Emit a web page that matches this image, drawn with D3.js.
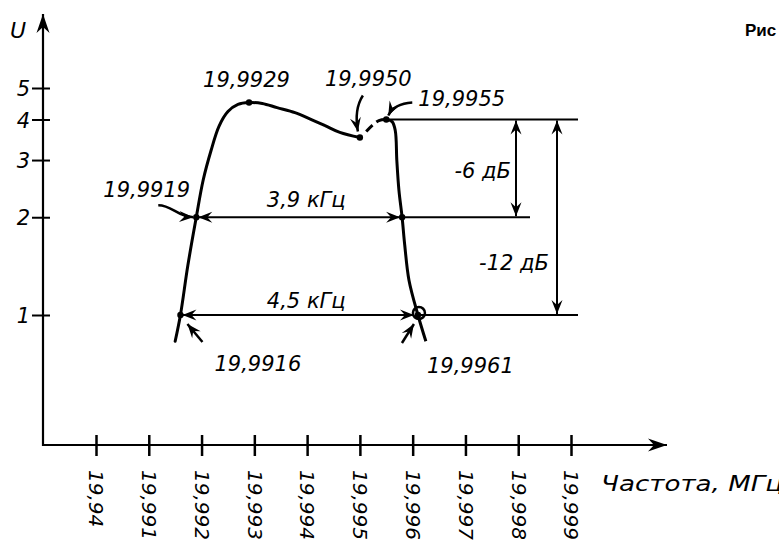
<!DOCTYPE html>
<html>
<head>
<meta charset="utf-8">
<script src="https://cdn.jsdelivr.net/npm/d3@7"></script>
<style>
  body { margin: 0; background: #fff; }
  svg { display: block; }
  text { font-family: "DejaVu Sans", sans-serif; font-style: italic; fill: #000; }
</style>
</head>
<body>
<div id="chart"></div>
<script>
// axis ticks
var xTickValues = [19.990, 19.991, 19.992, 19.993, 19.994, 19.995, 19.996, 19.997, 19.998, 19.999];
var xTickLabels = ["19,94", "19,991", "19,992", "19,993", "19,994", "19,995", "19,996", "19,997", "19,998", "19,999"];
var yTickValues = [1, 2, 3, 4, 5];

// response curve, part before the dip and part after it (MHz, U)
var leftFreq = [19.99150, 19.9916, 19.99174, 19.9919, 19.99203, 19.99218, 19.99233, 19.99250, 19.99269, 19.9929,
                19.99315, 19.99343, 19.99377, 19.99405, 19.99434, 19.99462, 19.9950];
var leftU = [0.83, 1.0, 1.42, 2.0, 2.6, 3.21, 3.81, 4.23, 4.45, 4.51,
             4.48, 4.35, 4.2, 4.02, 3.83, 3.65, 3.52];
var rightFreq = [19.99512, 19.99523, 19.99536, 19.9955, 19.99561, 19.99567, 19.99570, 19.99574, 19.9958,
                 19.99585, 19.99593, 19.9961, 19.99625];
var rightU = [3.67, 3.83, 3.97, 4.0, 3.94, 3.7, 2.99, 2.42, 2.0,
              1.64, 1.28, 1.0, 0.83];

// marked points
var markFreq = [19.9916, 19.9919, 19.9929, 19.9950, 19.9955, 19.9958, 19.9961];
var markU = [1, 2, 4.51, 3.52, 4, 2, 1];
var markLabels = ["19,9916", "19,9919", "19,9929", "19,9950", "19,9955", "", "19,9961"];

var refU = 4;          // reference level
var bandLabels = ["3,9 кГц", "4,5 кГц"];
var dbLabels = ["-6 дБ", "-12 дБ"];

var width = 779, height = 548;
var x0 = 43, y0 = 445;

var svg = d3.select("#chart").append("svg")
  .attr("width", width).attr("height", height);

var defs = svg.append("defs");
function marker(id, d) {
  defs.append("marker")
    .attr("id", id)
    .attr("viewBox", "-22 -10 24 20")
    .attr("refX", 0).attr("refY", 0)
    .attr("markerWidth", 24).attr("markerHeight", 20)
    .attr("markerUnits", "userSpaceOnUse")
    .attr("orient", "auto-start-reverse")
    .append("path").attr("d", d).attr("fill", "#000");
}
marker("axisArrow", "M0,0 L-19,-6.5 L-13,0 L-19,6.5 Z");
marker("arr", "M0,0 L-14,-5.5 L-9,0 L-14,5.5 Z");

var x = d3.scaleLinear().domain([19.990, 19.999]).range([96, 571]);
var y = d3.scaleLog().domain([1, 5]).range([315, 88]);

// x axis
svg.append("g")
  .attr("transform", "translate(0," + y0 + ")")
  .call(d3.axisBottom(x).tickValues(xTickValues)
    .tickFormat(function(d, i) { return xTickLabels[i]; })
    .tickSizeOuter(0))
  .call(function(g) { g.select(".domain").remove(); })
  .call(function(g) {
    g.selectAll(".tick line").attr("y1", -10).attr("y2", 11)
      .attr("stroke", "#000").attr("stroke-width", 2.5);
  })
  .call(function(g) {
    g.selectAll(".tick text")
      .attr("x", 0).attr("y", 0).attr("dy", "0.36em")
      .attr("transform", "translate(0,25) rotate(90)")
      .attr("text-anchor", "start")
      .style("font-size", "20px");
  });

// y axis
svg.append("g")
  .attr("transform", "translate(" + x0 + ",0)")
  .call(d3.axisLeft(y).tickValues(yTickValues).tickFormat(d3.format("d")).tickSizeOuter(0))
  .call(function(g) { g.select(".domain").remove(); })
  .call(function(g) {
    g.selectAll(".tick line").attr("x1", 7).attr("x2", -11)
      .attr("stroke", "#000").attr("stroke-width", 2);
  })
  .call(function(g) {
    g.selectAll(".tick text").attr("x", -13).attr("dy", "0.36em")
      .style("font-size", "21px");
  });

// axis lines with arrows
svg.append("line").attr("x1", x0).attr("y1", y0).attr("x2", 667).attr("y2", y0)
  .attr("stroke", "#000").attr("stroke-width", 2.2).attr("marker-end", "url(#axisArrow)");
svg.append("line").attr("x1", x0).attr("y1", y0 + 1).attr("x2", x0).attr("y2", 14)
  .attr("stroke", "#000").attr("stroke-width", 2.2).attr("marker-end", "url(#axisArrow)");

svg.append("text").attr("x", 10).attr("y", 38).style("font-size", "22px").text("U");
svg.append("text").attr("x", 601).attr("y", 491).style("font-size", "21px")
  .attr("textLength", 182).attr("lengthAdjust", "spacingAndGlyphs")
  .text("Частота, МГц");
svg.append("text").attr("x", 745).attr("y", 36)
  .style("font-family", "'Liberation Sans', Arial, sans-serif")
  .style("font-style", "normal").style("font-weight", "bold").style("font-size", "17px")
  .text("Рис");

// level lines
var xr = markFreq.map(x), yr = markU.map(function(u) { return y(u); });
var yRef = y(refU), y2 = y(2), y1 = y(1);
function hline(xa, xb, yy) {
  return svg.append("line").attr("x1", xa).attr("y1", yy).attr("x2", xb).attr("y2", yy)
    .attr("stroke", "#000").attr("stroke-width", 2);
}
hline(xr[4], 578, yRef);
hline(xr[5], 530, y2);
hline(xr[6], 578, y1);
// band arrows
hline(xr[1] + 2, xr[5] - 2, y2).attr("marker-start", "url(#arr)").attr("marker-end", "url(#arr)");
hline(xr[0] + 2, xr[6] - 4, y1).attr("marker-start", "url(#arr)").attr("marker-end", "url(#arr)");
// level arrows
function vline(xx, ya, yb) {
  return svg.append("line").attr("x1", xx).attr("y1", ya).attr("x2", xx).attr("y2", yb)
    .attr("stroke", "#000").attr("stroke-width", 2)
    .attr("marker-start", "url(#arr)").attr("marker-end", "url(#arr)");
}
vline(516, yRef + 1, y2 - 1);
vline(557, yRef + 1, y1 - 1);

// curve
var line = d3.line()
  .x(function(d) { return x(d[0]); })
  .y(function(d) { return y(d[1]); })
  .curve(d3.curveCatmullRom.alpha(0.5));
svg.append("path").datum(d3.zip(leftFreq, leftU))
  .attr("d", line).attr("fill", "none").attr("stroke", "#000")
  .attr("stroke-width", 3).attr("stroke-linecap", "round");
svg.append("path").datum(d3.zip(rightFreq, rightU))
  .attr("d", line).attr("fill", "none").attr("stroke", "#000")
  .attr("stroke-width", 3).attr("stroke-dasharray", "9 5 2000");

// points
svg.append("g").selectAll("circle").data(d3.range(markFreq.length)).enter()
  .append("circle")
  .attr("cx", function(i) { return xr[i]; })
  .attr("cy", function(i) { return yr[i]; })
  .attr("r", 3.2).attr("fill", "#000");
svg.append("circle").attr("cx", xr[6] + 1).attr("cy", y1 - 2).attr("r", 6)
  .attr("fill", "none").attr("stroke", "#000").attr("stroke-width", 2.5);

// pointer arrows to marked points
function pointer(d) {
  svg.append("path").attr("d", d).attr("fill", "none").attr("stroke", "#000")
    .attr("stroke-width", 2.5).attr("marker-end", "url(#arr)");
}
pointer("M" + (xr[1] - 38) + "," + (yr[1] - 12) + " C" + (xr[1] - 24) + "," + (yr[1] - 12) + " " +
        (xr[1] - 20) + "," + (yr[1] - 1) + " " + (xr[1] - 3) + "," + (yr[1]));
pointer("M" + (xr[3] + 3) + "," + (yr[3] - 42) + " Q" + (xr[3] - 6) + "," + (yr[3] - 28) + " " +
        (xr[3] - 2) + "," + (yr[3] - 6));
pointer("M" + (xr[4] + 26) + "," + (yr[4] - 17) + " Q" + (xr[4] + 8) + "," + (yr[4] - 16) + " " +
        (xr[4] + 2) + "," + (yr[4] - 4));
pointer("M" + (xr[0] + 22) + "," + (y1 + 27) + " L" + (xr[0] + 7) + "," + (y1 + 9));
pointer("M" + (xr[6] - 16) + "," + (y1 + 28) + " L" + (xr[6] - 4) + "," + (y1 + 9));

// labels
function label(txt, xx, yy, anchor) {
  svg.append("text").attr("x", xx).attr("y", yy)
    .attr("text-anchor", anchor || "start")
    .style("font-size", "21px").text(txt);
}
label(markLabels[0], xr[0] + 34, y1 + 56);
label(markLabels[1], xr[1] - 93, yr[1] - 20);
label(markLabels[2], xr[2] - 46, yr[2] - 16);
label(markLabels[3], xr[3] - 35, yr[3] - 52);
label(markLabels[4], xr[4] + 32, yr[4] - 13);
label(markLabels[6], xr[6] + 9, y1 + 58);
label(bandLabels[0], (xr[1] + xr[5]) / 2 + 7, y2 - 10, "middle");
label(bandLabels[1], (xr[0] + xr[6]) / 2 + 7, y1 - 7, "middle");
label(dbLabels[0], 511, (yRef + y2) / 2 + 10, "end");
label(dbLabels[1], 549, (yRef + y1) / 2 + 53, "end");
</script>
</body>
</html>
